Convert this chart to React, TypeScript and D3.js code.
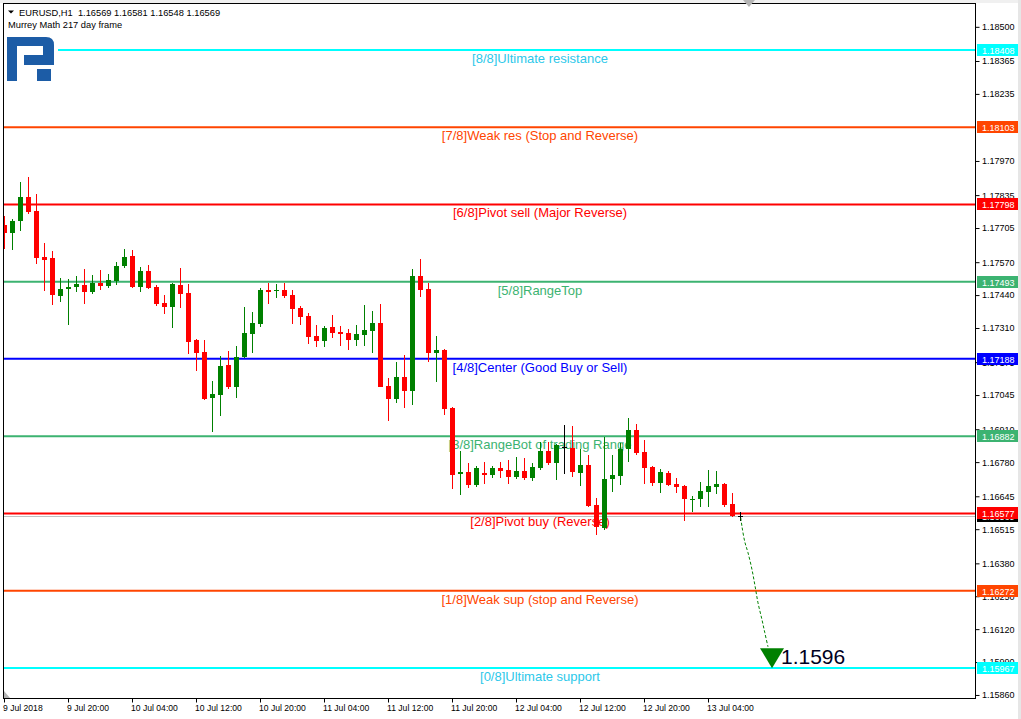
import * as d3 from 'd3';
import { useEffect, useRef } from 'react';

const WIDTH = 1021;
const HEIGHT = 719;

// EURUSD H1 bars, first bar = 9 Jul 2018 12:00
const opens = [
    1.17717, 1.17686, 1.17733, 1.17827, 1.17772, 1.17591, 1.17587, 1.17437, 1.17464, 1.17472,
    1.17480, 1.17453, 1.17488, 1.17476, 1.17496, 1.17555, 1.17595, 1.17472, 1.17536, 1.17472,
    1.17409, 1.17393, 1.17480, 1.17449, 1.17263, 1.17216, 1.17034, 1.17046, 1.17165, 1.17078,
    1.17196, 1.17287, 1.17326, 1.17461, 1.17457, 1.17461, 1.17441, 1.17389, 1.17358, 1.17279,
    1.17259, 1.17315, 1.17295, 1.17291, 1.17263, 1.17283, 1.17299, 1.17330, 1.17082, 1.17030,
    1.17117, 1.17062, 1.17516, 1.17464, 1.17212, 1.17224, 1.16994, 1.16734, 1.16742, 1.16690,
    1.16738, 1.16730, 1.16758, 1.16750, 1.16722, 1.16746, 1.16718, 1.16758, 1.16825, 1.16777,
    1.16840, 1.16836, 1.16738, 1.16770, 1.16611, 1.16521, 1.16714, 1.16726, 1.16833, 1.16908,
    1.16821, 1.16762, 1.16698, 1.16738, 1.16694, 1.16687, 1.16633, 1.16635, 1.16663, 1.16683,
    1.16694, 1.16615, 1.16569,
];
const highs = [
    1.17752, 1.17740, 1.17887, 1.17906, 1.17839, 1.17646, 1.17615, 1.17508, 1.17504, 1.17516,
    1.17543, 1.17520, 1.17540, 1.17524, 1.17571, 1.17622, 1.17619, 1.17551, 1.17559, 1.17480,
    1.17441, 1.17488, 1.17547, 1.17484, 1.17267, 1.17263, 1.17101, 1.17200, 1.17220, 1.17240,
    1.17393, 1.17374, 1.17468, 1.17488, 1.17484, 1.17488, 1.17461, 1.17397, 1.17370, 1.17322,
    1.17318, 1.17362, 1.17318, 1.17307, 1.17322, 1.17401, 1.17378, 1.17405, 1.17113, 1.17176,
    1.17204, 1.17543, 1.17583, 1.17488, 1.17279, 1.17228, 1.16998, 1.16825, 1.16777, 1.16766,
    1.16781, 1.16766, 1.16781, 1.16789, 1.16801, 1.16797, 1.16777, 1.16860, 1.16860, 1.16852,
    1.16927, 1.16923, 1.16833, 1.16809, 1.16639, 1.16880, 1.16809, 1.16856, 1.16955, 1.16931,
    1.16868, 1.16766, 1.16754, 1.16746, 1.16718, 1.16690, 1.16647, 1.16702, 1.16750, 1.16746,
    1.16698, 1.16659, 1.16581,
];
const lows = [
    1.17622, 1.17619, 1.17694, 1.17760, 1.17563, 1.17457, 1.17401, 1.17413, 1.17322, 1.17453,
    1.17405, 1.17445, 1.17461, 1.17468, 1.17480, 1.17547, 1.17468, 1.17453, 1.17464, 1.17397,
    1.17366, 1.17311, 1.17389, 1.17208, 1.17141, 1.17026, 1.16900, 1.16963, 1.17070, 1.17034,
    1.17192, 1.17212, 1.17315, 1.17405, 1.17429, 1.17429, 1.17326, 1.17322, 1.17247, 1.17235,
    1.17235, 1.17271, 1.17240, 1.17224, 1.17240, 1.17240, 1.17212, 1.17078, 1.16943, 1.17014,
    1.16994, 1.17006, 1.17433, 1.17176, 1.17097, 1.16967, 1.16675, 1.16651, 1.16679, 1.16683,
    1.16694, 1.16718, 1.16718, 1.16694, 1.16714, 1.16710, 1.16706, 1.16750, 1.16770, 1.16710,
    1.16734, 1.16722, 1.16687, 1.16603, 1.16493, 1.16513, 1.16663, 1.16690, 1.16781, 1.16809,
    1.16694, 1.16687, 1.16659, 1.16687, 1.16659, 1.16548, 1.16584, 1.16603, 1.16603, 1.16655,
    1.16603, 1.16564, 1.16548,
];
const closes = [
    1.17686, 1.17733, 1.17827, 1.17768, 1.17587, 1.17579, 1.17441, 1.17464, 1.17472, 1.17484,
    1.17453, 1.17488, 1.17476, 1.17500, 1.17555, 1.17591, 1.17472, 1.17536, 1.17468, 1.17405,
    1.17393, 1.17484, 1.17445, 1.17255, 1.17212, 1.17030, 1.17050, 1.17161, 1.17078, 1.17196,
    1.17291, 1.17330, 1.17461, 1.17453, 1.17461, 1.17437, 1.17386, 1.17354, 1.17275, 1.17259,
    1.17311, 1.17291, 1.17287, 1.17263, 1.17287, 1.17303, 1.17330, 1.17078, 1.17030, 1.17117,
    1.17062, 1.17516, 1.17461, 1.17212, 1.17224, 1.16991, 1.16730, 1.16742, 1.16690, 1.16758,
    1.16730, 1.16758, 1.16746, 1.16722, 1.16746, 1.16718, 1.16762, 1.16825, 1.16777, 1.16848,
    1.16840, 1.16742, 1.16770, 1.16607, 1.16525, 1.16714, 1.16730, 1.16833, 1.16908, 1.16817,
    1.16758, 1.16698, 1.16742, 1.16690, 1.16683, 1.16635, 1.16635, 1.16667, 1.16687, 1.16694,
    1.16611, 1.16569, 1.16569,
];

// one label every 8 bars
const timeLabels = [
    '9 Jul 2018', '9 Jul 20:00', '10 Jul 04:00', '10 Jul 12:00', '10 Jul 20:00', '11 Jul 04:00',
    '11 Jul 12:00', '11 Jul 20:00', '12 Jul 04:00', '12 Jul 12:00', '12 Jul 20:00', '13 Jul 04:00',
];
const priceTicks = [
    1.18500, 1.18365, 1.18235, 1.17970, 1.17835, 1.17705, 1.17570, 1.17440, 1.17310,
    1.17175, 1.17045, 1.16910, 1.16780, 1.16645, 1.16515, 1.16380, 1.16250, 1.16120, 1.15990, 1.15860,
];

// Murrey Math levels
const levelNames = [
    '[8/8]Ultimate resistance', '[7/8]Weak res (Stop and Reverse)', '[6/8]Pivot sell (Major Reverse)',
    '[5/8]RangeTop', '[4/8]Center (Good Buy or Sell)', '[3/8]RangeBot of trading Range',
    '[2/8]Pivot buy (Reverse)', '[1/8]Weak sup (stop and Reverse)', '[0/8]Ultimate support',
];
const levelPrices = [1.18408, 1.18103, 1.17798, 1.17493, 1.17188, 1.16882, 1.16577, 1.16272, 1.15967];
const levelColors = ['#00ffff', '#ff4500', '#ff0000', '#3cb371', '#0000ff', '#3cb371', '#ff0000', '#ff4500', '#00ffff'];
const levelTextColors = ['#2cc8ea', '#ff4500', '#ff0000', '#3cb371', '#0000ff', '#3cb371', '#ff0000', '#ff4500', '#2cc8ea'];

// forecast path drawn to the target
const forecastBars = [92.1, 92.25, 92.6, 93, 93.5, 93.9, 94.25, 94.75, 95.1, 95.5];
const forecastPrices = [1.16560, 1.16525, 1.16465, 1.16422, 1.16355, 1.16287, 1.16224, 1.16157, 1.16106, 1.16050];
const targetBar = 96;
const targetPrice = 1.1596;

const FONT = '"Liberation Sans", Arial, sans-serif';

function App() {
    const svgRef = useRef<SVGSVGElement>(null);

    useEffect(() => {
        if (!svgRef.current) return;
        const svg = d3.select(svgRef.current);
        svg.selectAll('*').remove();

        const left = 3.5, top = 3.5, right = 975.5, bottom = 698.5;

        const x = d3.scaleLinear().domain([0, 121.375]).range([4, 975]);
        const y = d3.scaleLinear().domain([1.18606, 1.15846]).range([0, 698.5]);

        svg.append('rect').attr('width', WIDTH).attr('height', HEIGHT).attr('fill', '#fff');
        svg.append('rect').attr('x', 1018).attr('y', 0).attr('width', 3).attr('height', HEIGHT).attr('fill', '#e6e6e6');
        svg.append('rect').attr('x', 0).attr('y', 0).attr('width', 1018).attr('height', 3).attr('fill', '#f0f0f0');

        svg.append('clipPath').attr('id', 'plot-clip')
            .append('rect').attr('x', left).attr('y', top).attr('width', right - left).attr('height', bottom - top);

        const plot = svg.append('g').attr('clip-path', 'url(#plot-clip)');

        const last = closes.length - 1;
        const bid = closes[last];

        // bid line
        plot.append('line')
            .attr('x1', left).attr('x2', right)
            .attr('y1', Math.round(y(bid)) + 0.5).attr('y2', Math.round(y(bid)) + 0.5)
            .attr('stroke', '#c0c0c0');

        // level lines and captions
        levelPrices.forEach((p, i) => {
            const ly = y(p);
            plot.append('line')
                .attr('x1', left).attr('x2', right)
                .attr('y1', ly).attr('y2', ly)
                .attr('stroke', levelColors[i]).attr('stroke-width', 2);
            plot.append('text')
                .attr('x', 540).attr('y', ly + 13)
                .attr('text-anchor', 'middle')
                .attr('font-family', FONT).attr('font-size', 13)
                .attr('fill', levelTextColors[i])
                .text(levelNames[i]);
        });

        // candles
        const candles = plot.append('g').attr('shape-rendering', 'crispEdges');
        d3.range(closes.length).forEach((i) => {
            const cx = Math.round(x(i));
            const o = opens[i], c = closes[i];
            const color = c > o ? '#008000' : c < o ? '#ff0000' : '#000000';
            candles.append('line')
                .attr('x1', cx + 0.5).attr('x2', cx + 0.5)
                .attr('y1', y(highs[i])).attr('y2', y(lows[i]))
                .attr('stroke', color);
            const y0 = Math.min(y(o), y(c));
            const h = Math.max(1, Math.abs(y(o) - y(c)));
            candles.append('rect')
                .attr('x', cx - 2).attr('width', 5)
                .attr('y', y0).attr('height', h)
                .attr('fill', color);
        });

        // forecast to target
        const line = d3.line<number>()
            .x((d, i) => x(forecastBars[i]))
            .y((d) => y(d))
            .curve(d3.curveCatmullRom);
        plot.append('path')
            .attr('d', line(forecastPrices))
            .attr('fill', 'none')
            .attr('stroke', '#008000')
            .attr('stroke-dasharray', '3,2');

        const tx = x(targetBar), ty = y(targetPrice) - 1.5;
        plot.append('path')
            .attr('d', `M${tx - 12},${ty - 20}L${tx + 12},${ty - 20}L${tx},${ty}Z`)
            .attr('fill', '#008000');
        plot.append('text')
            .attr('x', tx + 9).attr('y', ty - 4)
            .attr('font-family', FONT).attr('font-size', 21)
            .attr('fill', '#00001e')
            .text(targetPrice.toFixed(4));

        // logo
        svg.append('rect').attr('x', 4).attr('y', 33).attr('width', 54).attr('height', 52).attr('fill', '#fff');
        const logo = svg.append('g').attr('fill', '#1c5ca6');
        logo.append('rect').attr('x', 7).attr('y', 37).attr('width', 10).attr('height', 44);
        logo.append('path').attr('d', 'M7,37H46Q54,37 54,45V65H24V55H43V46H7Z');
        logo.append('rect').attr('x', 37).attr('y', 69).attr('width', 14).attr('height', 12);

        // header
        svg.append('path').attr('d', 'M8,10.5H14L11,13.5Z').attr('fill', '#000');
        svg.append('text')
            .attr('x', 19).attr('y', 16)
            .attr('font-family', FONT).attr('font-size', 9.3).attr('fill', '#000')
            .attr('xml:space', 'preserve')
            .text(`EURUSD,H1  ${opens[last].toFixed(5)} ${highs[last].toFixed(5)} ${lows[last].toFixed(5)} ${closes[last].toFixed(5)}`);
        svg.append('text')
            .attr('x', 8).attr('y', 28)
            .attr('font-family', FONT).attr('font-size', 9.3).attr('fill', '#000')
            .text('Murrey Math 217 day frame');

        // frame
        svg.append('rect')
            .attr('x', left).attr('y', top)
            .attr('width', right - left).attr('height', bottom - top)
            .attr('fill', 'none').attr('stroke', '#000');

        // markers
        svg.append('path').attr('d', 'M743,0H755L749,7Z').attr('fill', '#b4b4b4');
        svg.append('path').attr('d', 'M4,691L10,698H4Z').attr('fill', '#b4b4b4');

        // price axis
        const yAxis = svg.append('g')
            .attr('transform', `translate(${right},0)`)
            .call(d3.axisRight(y).tickValues(priceTicks).tickSize(4).tickFormat(d3.format('.5f')));
        yAxis.select('.domain').remove();
        yAxis.selectAll('text').attr('font-family', FONT).attr('font-size', 9).attr('fill', '#000').attr('x', 6.5);
        yAxis.selectAll('line').attr('stroke', '#000');

        // time axis
        const xAxis = svg.append('g')
            .attr('transform', `translate(0,${bottom})`)
            .call(d3.axisBottom(x)
                .tickValues(d3.range(0, timeLabels.length * 8, 8))
                .tickSize(4)
                .tickFormat((d, i) => timeLabels[i]));
        xAxis.select('.domain').remove();
        xAxis.selectAll('text')
            .attr('font-family', FONT).attr('font-size', 8.6).attr('fill', '#000')
            .attr('text-anchor', 'start').attr('dx', -1.5).attr('y', 6);
        xAxis.selectAll('line').attr('stroke', '#000');

        // price labels on the axis
        const tags = svg.append('g');
        const addTag = (p: number, fill: string) => {
            const ty2 = Math.round(y(p));
            tags.append('rect')
                .attr('x', 977).attr('y', ty2 - 6).attr('width', 41).attr('height', 12)
                .attr('fill', fill);
            tags.append('text')
                .attr('x', 982).attr('y', ty2 + 3.5)
                .attr('font-family', FONT).attr('font-size', 9).attr('fill', '#fff')
                .text(p.toFixed(5));
        };
        addTag(bid, '#000');
        levelPrices.forEach((p, i) => addTag(p, levelColors[i]));
    }, []);

    return (
        <svg
            ref={svgRef}
            width={WIDTH}
            height={HEIGHT}
            style={{ position: 'absolute', left: 0, top: 0, display: 'block' }}
        />
    );
}

export default App;
